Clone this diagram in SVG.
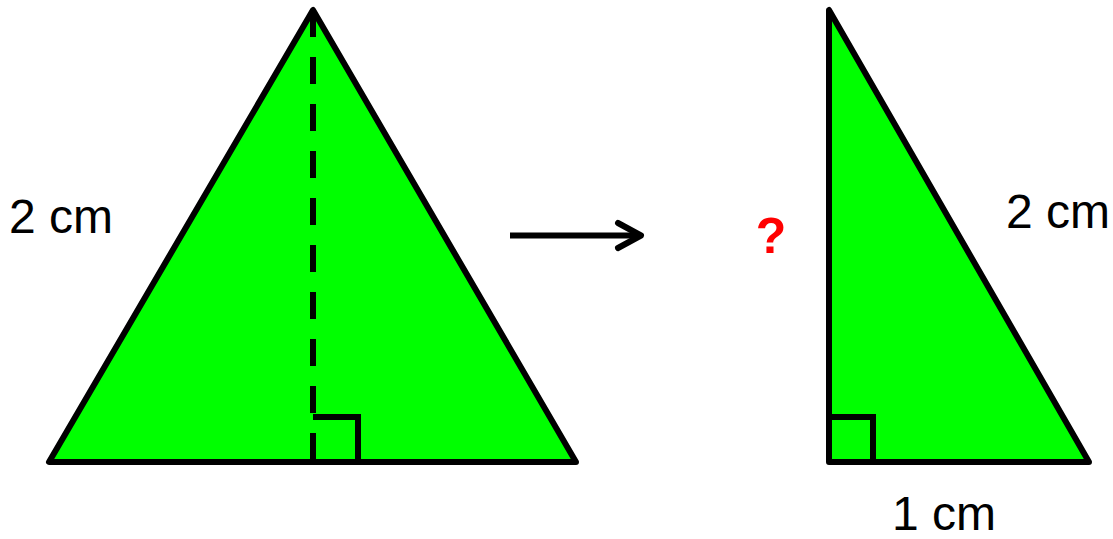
<svg xmlns="http://www.w3.org/2000/svg" width="1113" height="539" viewBox="0 0 1113 539">
  <style>
    .shape { fill: #00ff00; stroke: #000; stroke-width: 6; stroke-linejoin: round; }
    .mark { fill: none; stroke: #000; stroke-width: 6; stroke-linejoin: miter; }
    .dash { fill: none; stroke: #000; stroke-width: 6; stroke-dasharray: 27 20; }
    .label { font-family: "Liberation Sans", Arial, sans-serif; font-size: 48px; fill: #000; }
    .q { font-family: "Liberation Sans", Arial, sans-serif; font-size: 50px; font-weight: bold; fill: #ff0000; }
    .conn { fill: none; stroke: #000; stroke-width: 6; }
  </style>
  <defs>
    <marker id="chev" markerUnits="userSpaceOnUse" viewBox="-30 -20 40 40" markerWidth="40" markerHeight="40" refX="0" refY="0" orient="auto">
      <path d="M -23 -12.5 L 0 0 L -23 12.5" fill="none" stroke="#000" stroke-width="6" stroke-linecap="round" stroke-linejoin="round"/>
    </marker>
  </defs>
  <rect width="1113" height="539" fill="#fff"/>
  <g id="left-triangle">
    <polygon class="shape" points="313,10 49,462 576,462"/>
    <line class="dash" x1="313" y1="10" x2="313" y2="460"/>
    <polyline class="mark" points="313,417 358,417 358,462"/>
  </g>
  <g id="left-label">
    <text class="label" x="9" y="233">2 cm</text>
  </g>
  <g id="right-triangle">
    <polygon class="shape" points="829,10 829,462 1089,462"/>
    <polyline class="mark" points="829,417 873,417 873,462"/>
  </g>
  <g id="question">
    <text class="q" x="771" y="253" text-anchor="middle">?</text>
  </g>
  <g id="hyp-label">
    <text class="label" x="1006" y="228">2 cm</text>
  </g>
  <g id="base-label">
    <text class="label" x="892" y="530">1 cm</text>
  </g>
  <g id="connectors">
    <line class="conn" x1="510" y1="235.5" x2="641" y2="235.5" marker-end="url(#chev)"/>
  </g>
</svg>
